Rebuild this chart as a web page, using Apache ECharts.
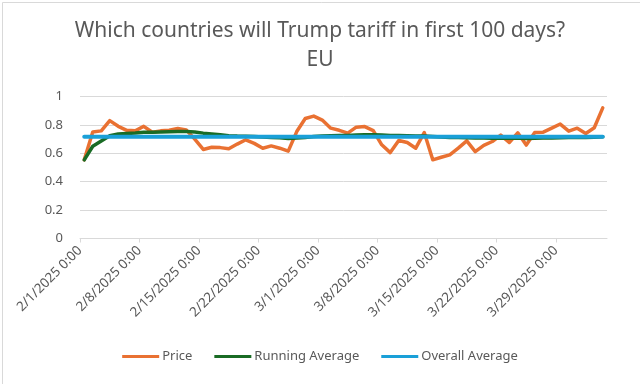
<!DOCTYPE html>
<html>
<head>
<meta charset="utf-8">
<script src="https://cdn.jsdelivr.net/npm/echarts@6/dist/echarts.min.js"></script>
<style>
html,body{margin:0;padding:0;background:#fff;}
#c{width:640px;height:384px;}
</style>
</head>
<body>
<div id="c"></div>
<script>
// ---- data (daily, starting 2/1/2025) ----
const startDate = [2025, 1, 1]; // 2/1/2025
const price = [
  0.554, 0.750, 0.758, 0.830, 0.790, 0.762, 0.758, 0.790, 0.748, 0.758,
  0.762, 0.775, 0.765, 0.700, 0.627, 0.643, 0.640, 0.632, 0.665, 0.695,
  0.670, 0.636, 0.652, 0.636, 0.615, 0.753, 0.845, 0.862, 0.834, 0.777,
  0.762, 0.742, 0.784, 0.788, 0.760, 0.660, 0.605, 0.690, 0.676, 0.636,
  0.746, 0.554, 0.572, 0.589, 0.636, 0.688, 0.612, 0.656, 0.683, 0.728,
  0.676, 0.744, 0.658, 0.746, 0.749, 0.777, 0.806, 0.756, 0.777, 0.740,
  0.780, 0.920
];
const runningAvg = [
  0.554, 0.650, 0.687, 0.723, 0.736, 0.740, 0.743, 0.749, 0.749, 0.750,
  0.751, 0.753, 0.754, 0.750, 0.742, 0.736, 0.730, 0.724, 0.721, 0.720,
  0.718, 0.714, 0.712, 0.709, 0.705, 0.707, 0.712, 0.718, 0.722, 0.724,
  0.725, 0.726, 0.728, 0.730, 0.731, 0.729, 0.726, 0.725, 0.724, 0.721,
  0.722, 0.718, 0.715, 0.712, 0.711, 0.710, 0.708, 0.707, 0.706, 0.707,
  0.706, 0.707, 0.705, 0.706, 0.707, 0.708, 0.710, 0.711, 0.712, 0.712,
  0.713, 0.716
];
const overallAvg = 0.716;
const xTickDays = [0, 7, 14, 21, 28, 35, 42, 49, 56];
const yTicks = [0, 0.2, 0.4, 0.6, 0.8, 1];
const titleText = 'Which countries will Trump tariff in first 100 days?\nEU';
const seriesNames = ['Price', 'Running Average', 'Overall Average'];

function dayLabel(d) {
  const dt = new Date(startDate[0], startDate[1], startDate[2] + d);
  return (dt.getMonth() + 1) + '/' + dt.getDate() + '/' + dt.getFullYear() + ' 0:00';
}
// points sit in the middle of each day slot
const toPts = arr => arr.map((v, i) => [i + 0.5, v]);
const overallArr = price.map(() => overallAvg);

const FONT = 'Noto Sans';
const chart = echarts.init(document.getElementById('c'), null, {renderer: 'canvas'});
chart.setOption({
  animation: false,
  backgroundColor: '#fff',
  textStyle: {fontFamily: FONT},
  graphic: [{
    type: 'rect', left: 0, top: 0, z: -1,
    shape: {x: 0.5, y: 0.5, width: 639, height: 383},
    style: {fill: 'none', stroke: '#d9d9d9', lineWidth: 1}
  }],
  title: {
    text: titleText,
    left: 'center',
    top: 12,
    textStyle: {fontFamily: FONT, fontSize: 21, fontWeight: 'normal', color: '#595959', lineHeight: 29}
  },
  legend: {
    bottom: 16,
    left: 'center',
    itemWidth: 37,
    itemHeight: 3,
    itemGap: 22,
    icon: 'rect',
    textStyle: {fontFamily: FONT, fontSize: 13, color: '#595959', padding: [0, 0, 0, -2]},
    data: seriesNames
  },
  grid: {left: 80, right: 33, top: 96.5, bottom: 145.5, containLabel: false},
  xAxis: {
    type: 'value',
    min: 0,
    max: price.length,
    interval: 7,
    axisLine: {show: true, lineStyle: {color: '#d9d9d9', width: 1}},
    axisTick: {show: true, length: 4, lineStyle: {color: '#d9d9d9'}, customValues: xTickDays},
    splitLine: {show: false},
    axisLabel: {
      customValues: xTickDays,
      rotate: 45,
      margin: 10,
      fontFamily: FONT, fontSize: 13.4, color: '#595959',
      formatter: v => dayLabel(v)
    }
  },
  yAxis: {
    type: 'value',
    min: 0, max: 1, interval: 0.2,
    axisLine: {show: false},
    axisTick: {show: false},
    splitLine: {lineStyle: {color: '#d9d9d9', width: 1}},
    axisLabel: {fontFamily: FONT, fontSize: 13, color: '#595959', margin: 17}
  },
  series: [
    {name: seriesNames[0], type: 'line', data: toPts(price), showSymbol: false, symbol: 'none',
     lineStyle: {color: '#E97132', width: 3.5, cap: 'round', join: 'round'}, itemStyle: {color: '#E97132'}},
    {name: seriesNames[1], type: 'line', data: toPts(runningAvg), showSymbol: false, symbol: 'none',
     lineStyle: {color: '#196B24', width: 3.5, cap: 'round', join: 'round'}, itemStyle: {color: '#196B24'}},
    {name: seriesNames[2], type: 'line', data: toPts(overallArr), showSymbol: false, symbol: 'none',
     lineStyle: {color: '#1AA0D8', width: 4, cap: 'round', join: 'round'}, itemStyle: {color: '#1AA0D8'}}
  ]
});
</script>
</body>
</html>
